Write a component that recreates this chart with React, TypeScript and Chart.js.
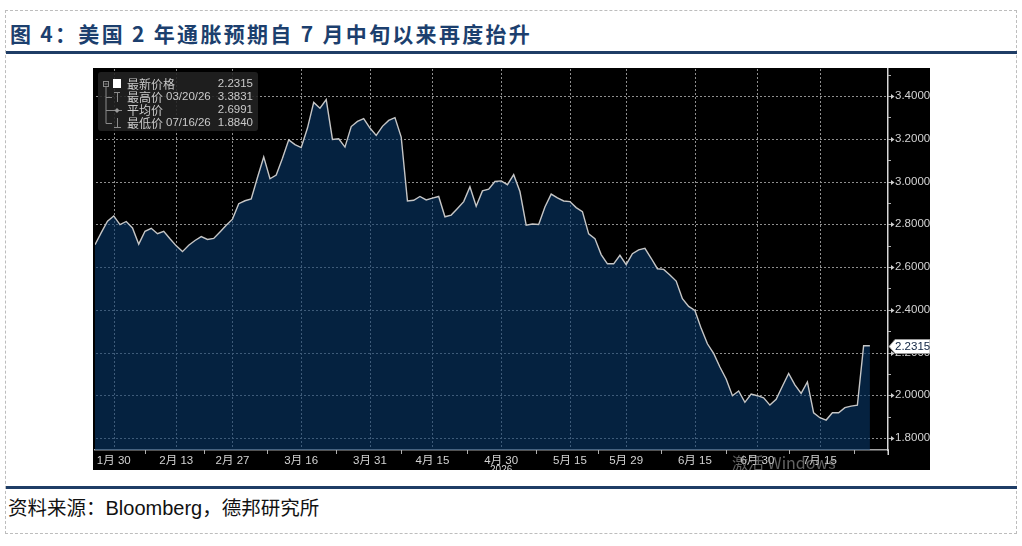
import React, { useEffect, useRef } from 'react';
import { Chart, registerables } from 'chart.js';

Chart.register(...registerables);

// ---------- data ----------
const START_DATE = '2026-01-27';
const HOLIDAYS = ['2026-02-16', '2026-04-03', '2026-05-25', '2026-06-19', '2026-07-03'];

const VALUES = [
  2.704, 2.761, 2.814, 2.839, 2.798, 2.813, 2.783, 2.707, 2.767, 2.781,
  2.756, 2.767, 2.732, 2.699, 2.672, 2.702, 2.724, 2.742, 2.729, 2.734,
  2.764, 2.795, 2.824, 2.896, 2.910, 2.918, 3.019, 3.115, 3.013, 3.030,
  3.109, 3.195, 3.173, 3.159, 3.250, 3.370, 3.343, 3.3831, 3.197, 3.200,
  3.161, 3.257, 3.281, 3.294, 3.250, 3.216, 3.258, 3.286, 3.299, 3.208,
  2.909, 2.912, 2.930, 2.914, 2.922, 2.930, 2.835, 2.843, 2.874, 2.906,
  2.975, 2.884, 2.956, 2.964, 3.000, 3.003, 2.985, 3.032, 2.953, 2.796,
  2.801, 2.799, 2.881, 2.941, 2.923, 2.909, 2.906, 2.878, 2.859, 2.755,
  2.733, 2.658, 2.615, 2.615, 2.655, 2.611, 2.662, 2.680, 2.687, 2.641,
  2.592, 2.589, 2.563, 2.534, 2.452, 2.416, 2.397, 2.313, 2.241, 2.196,
  2.132, 2.076, 1.998, 2.020, 1.967, 2.006, 1.998, 1.988, 1.954, 1.981,
  2.042, 2.102, 2.049, 2.009, 2.062, 1.918, 1.895, 1.884, 1.918, 1.918,
  1.942, 1.949, 1.954, 2.2315, 2.2315,
];

const X_LABEL_DATES = [
  '2026-01-30', '2026-02-13', '2026-02-27', '2026-03-16', '2026-03-31', '2026-04-15',
  '2026-04-30', '2026-05-15', '2026-05-29', '2026-06-15', '2026-06-30', '2026-07-15',
];
const YEAR_LABEL = '2026';

const Y_MAJOR = [1.8, 2.0, 2.2, 2.4, 2.6, 2.8, 3.0, 3.2, 3.4];
const Y_MINOR = [1.9, 2.1, 2.3, 2.5, 2.7, 2.9, 3.1, 3.3, 3.5];
const Y_MIN = 1.744;
const Y_MAX = 3.531;
const X_MAX = 126.9;

const LEGEND_NAMES = ['最新价格', '最高价', '平均价', '最低价'];
const LEGEND_DATES = ['', '03/20/26', '', '07/16/26'];
const LEGEND_VALUES = ['2.2315', '3.3831', '2.6991', '1.8840'];

const TITLE = '图 4：美国 2 年通胀预期自 7 月中旬以来再度抬升';
const SOURCE_A = '资料来源：';
const SOURCE_B = 'Bloomberg';
const SOURCE_C = '，德邦研究所';
const WATERMARK = '激活 Windows';

// ---------- derived ----------
function tradingDays(start: string, n: number): string[] {
  const out: string[] = [];
  const d = new Date(start + 'T00:00:00Z');
  while (out.length < n) {
    const iso = d.toISOString().slice(0, 10);
    const wd = d.getUTCDay();
    if (wd !== 0 && wd !== 6 && !HOLIDAYS.includes(iso)) out.push(iso);
    d.setUTCDate(d.getUTCDate() + 1);
  }
  return out;
}
const DATES = tradingDays(START_DATE, VALUES.length);
const LABEL_IDX = X_LABEL_DATES.map((s) => DATES.indexOf(s));
const MID_IDX: number[] = [];
for (let i = 1; i < LABEL_IDX.length; i++) MID_IDX.push((LABEL_IDX[i - 1] + LABEL_IDX[i]) / 2);
MID_IDX.push(LABEL_IDX[LABEL_IDX.length - 1] + 5.5);
const fmtLabel = (iso: string) => `${Number(iso.slice(5, 7))}月 ${Number(iso.slice(8, 10))}`;

const GRID = '#8e8e8e';
const TXT = '#d4d4d4';
const FONT = '"Noto Sans CJK SC", "DejaVu Sans", sans-serif';
const NUMFONT = '"Liberation Sans", "Noto Sans CJK SC", sans-serif';

const decor = {
  id: 'decor',
  beforeDraw(chart: any) {
    const { ctx, width, height } = chart;
    ctx.save();
    ctx.fillStyle = '#000';
    ctx.fillRect(0, 0, width, height);
    ctx.restore();
  },
  beforeDatasetsDraw(chart: any) {
    // dotted grid lines (drawn dot by dot) at the labelled ticks of both scales
    const { ctx, chartArea } = chart;
    const ys = chart.scales.y;
    const xs = chart.scales.x;
    const L = Math.round(chartArea.left), R = Math.round(chartArea.right);
    const T = Math.round(chartArea.top), B = Math.round(chartArea.bottom);
    ctx.save();
    ctx.fillStyle = GRID;
    Y_MAJOR.forEach((v) => {
      const y = Math.round(ys.getPixelForValue(v));
      for (let x = L + 1; x < R - 1; x += 4) ctx.fillRect(x, y, 2, 1);
    });
    LABEL_IDX.forEach((i) => {
      const x = Math.round(xs.getPixelForValue(i));
      for (let y = T + 1; y < B - 1; y += 4) ctx.fillRect(x, y, 1, 2);
    });
    ctx.restore();
  },
  afterDraw(chart: any) {
    const { ctx, chartArea } = chart;
    const ys = chart.scales.y;
    const xs = chart.scales.x;
    ctx.save();

    // x tick marks between labels, y tick marks
    ctx.strokeStyle = '#b0b0b0';
    ctx.lineWidth = 1;
    ctx.beginPath();
    MID_IDX.forEach((i) => {
      const x = Math.round(xs.getPixelForValue(i)) + 0.5;
      ctx.moveTo(x, chartArea.bottom);
      ctx.lineTo(x, chartArea.bottom + 4);
    });
    Y_MINOR.forEach((v) => {
      const y = Math.round(ys.getPixelForValue(v)) + 0.5;
      ctx.moveTo(chartArea.right, y);
      ctx.lineTo(chartArea.right + 3, y);
    });
    Y_MAJOR.forEach((v) => {
      const y = Math.round(ys.getPixelForValue(v)) + 0.5;
      ctx.moveTo(chartArea.right, y);
      ctx.lineTo(chartArea.right + 4, y);
    });
    ctx.stroke();
    ctx.fillStyle = '#d0d0d0';
    Y_MAJOR.forEach((v) => {
      const y = Math.round(ys.getPixelForValue(v)) + 0.5;
      ctx.beginPath();
      ctx.moveTo(chartArea.right + 3, y - 2.5);
      ctx.lineTo(chartArea.right + 6.5, y);
      ctx.lineTo(chartArea.right + 3, y + 2.5);
      ctx.closePath();
      ctx.fill();
    });
    ctx.strokeStyle = '#d8d8d8';
    ctx.lineWidth = 1.5;
    ctx.beginPath();
    ctx.moveTo(chartArea.right + 0.25, chartArea.bottom);
    ctx.lineTo(chartArea.right + 0.25, chartArea.bottom + 5);
    ctx.stroke();

    // year label under Apr 30 (clipped by the panel)
    ctx.fillStyle = TXT;
    ctx.font = `10px ${NUMFONT}`;
    ctx.textAlign = 'center';
    ctx.textBaseline = 'top';
    ctx.fillText(YEAR_LABEL, xs.getPixelForValue(LABEL_IDX[6]), 397);

    // watermark
    ctx.fillStyle = 'rgba(165,165,165,0.6)';
    ctx.font = `16px ${FONT}`;
    ctx.textAlign = 'left';
    ctx.textBaseline = 'middle';
    ctx.fillText(WATERMARK, 639, 395);

    // legend box
    ctx.fillStyle = 'rgba(34,34,34,0.88)';
    const bx = 5, by = 4, bw = 160, bh = 59, r = 3;
    ctx.beginPath();
    ctx.moveTo(bx + r, by);
    ctx.lineTo(bx + bw - r, by);
    ctx.quadraticCurveTo(bx + bw, by, bx + bw, by + r);
    ctx.lineTo(bx + bw, by + bh - r);
    ctx.quadraticCurveTo(bx + bw, by + bh, bx + bw - r, by + bh);
    ctx.lineTo(bx + r, by + bh);
    ctx.quadraticCurveTo(bx, by + bh, bx, by + bh - r);
    ctx.lineTo(bx, by + r);
    ctx.quadraticCurveTo(bx, by, bx + r, by);
    ctx.fill();

    const rows = [16, 29, 42, 55];
    ctx.strokeStyle = '#8a8a8a';
    ctx.lineWidth = 1;
    ctx.strokeRect(10.5, 13.5, 5, 5);
    ctx.beginPath();
    ctx.moveTo(11.5, 16); ctx.lineTo(14.5, 16);
    ctx.moveTo(13, 19); ctx.lineTo(13, 55.5);
    for (let k = 1; k < 4; k++) { ctx.moveTo(13, rows[k] + 0.5); ctx.lineTo(19, rows[k] + 0.5); }
    ctx.moveTo(21, 24.5); ctx.lineTo(27, 24.5); ctx.moveTo(24.5, 24.5); ctx.lineTo(24.5, 34);
    ctx.moveTo(19, 42.5); ctx.lineTo(29, 42.5);
    ctx.moveTo(24.5, 50); ctx.lineTo(24.5, 59.5); ctx.moveTo(21, 59.5); ctx.lineTo(28, 59.5);
    ctx.stroke();
    ctx.fillStyle = '#9a9a9a';
    ctx.beginPath();
    ctx.moveTo(24, 40); ctx.lineTo(26.5, 42.5); ctx.lineTo(24, 45); ctx.lineTo(21.5, 42.5); ctx.closePath();
    ctx.fill();
    ctx.fillStyle = '#ffffff';
    ctx.fillRect(20, 11, 8, 9);

    ctx.fillStyle = '#c9c9c9';
    ctx.textBaseline = 'middle';
    rows.forEach((ry, k) => {
      ctx.textAlign = 'left';
      ctx.font = `12px ${FONT}`;
      ctx.fillText(LEGEND_NAMES[k], 34, ry);
      ctx.font = `11.5px ${NUMFONT}`;
      if (LEGEND_DATES[k]) ctx.fillText(LEGEND_DATES[k], 73, ry);
      ctx.textAlign = 'right';
      ctx.fillText(LEGEND_VALUES[k], 160, ry);
    });

    // last value tag
    const last = VALUES[VALUES.length - 1];
    const ly = Math.round(ys.getPixelForValue(last)) + 0.5;
    const lx = chartArea.right + 1;
    ctx.fillStyle = '#ffffff';
    ctx.strokeStyle = '#9a9a9a';
    ctx.lineWidth = 1;
    ctx.beginPath();
    ctx.moveTo(lx, ly);
    ctx.lineTo(lx + 6, ly - 7);
    ctx.lineTo(lx + 41, ly - 7);
    ctx.lineTo(lx + 41, ly + 7);
    ctx.lineTo(lx + 6, ly + 7);
    ctx.closePath();
    ctx.fill();
    ctx.stroke();
    ctx.fillStyle = '#0d2240';
    ctx.font = `11.5px ${NUMFONT}`;
    ctx.textAlign = 'left';
    ctx.textBaseline = 'middle';
    ctx.fillText(last.toFixed(4), lx + 6, ly);

    ctx.restore();
  },
};

function BloombergChart() {
  const ref = useRef<HTMLCanvasElement | null>(null);
  useEffect(() => {
    if (!ref.current) return;
    const chart = new Chart(ref.current, {
      type: 'line',
      data: {
        datasets: [
          {
            data: VALUES.map((v, i) => ({ x: i, y: v })),
            borderColor: '#c6c6c6',
            borderWidth: 1.4,
            backgroundColor: 'rgba(8,56,106,0.6)',
            fill: 'start',
            pointRadius: 0,
            tension: 0,
          },
        ],
      },
      options: {
        animation: false,
        responsive: false,
        layout: { padding: { left: 2, top: 0, right: 0, bottom: 0 } },
        plugins: { legend: { display: false }, tooltip: { enabled: false } },
        scales: {
          x: {
            type: 'linear',
            min: 0,
            max: X_MAX,
            afterBuildTicks: (axis: any) => {
              axis.ticks = LABEL_IDX.map((v) => ({ value: v }));
            },
            afterFit: (axis: any) => {
              axis.height = 20;
              axis.paddingLeft = 0;
              axis.paddingRight = 0;
            },
            ticks: {
              autoSkip: false,
              maxRotation: 0,
              padding: 0,
              color: TXT,
              font: { family: NUMFONT, size: 11.5 },
              callback: (v: any) => {
                const k = LABEL_IDX.indexOf(Number(v));
                return k >= 0 ? fmtLabel(X_LABEL_DATES[k]) : '';
              },
            },
            grid: { display: false, drawTicks: true, tickLength: 4 },
            border: { display: true, color: '#a4a4a4', width: 1.5 },
          },
          y: {
            type: 'linear',
            position: 'right',
            min: Y_MIN,
            max: Y_MAX,
            afterBuildTicks: (axis: any) => {
              axis.ticks = Y_MAJOR.map((v) => ({ value: v }));
            },
            afterFit: (axis: any) => {
              axis.width = 42;
              axis.paddingTop = 0;
              axis.paddingBottom = 0;
            },
            ticks: {
              autoSkip: false,
              padding: 1,
              color: TXT,
              font: { family: NUMFONT, size: 11.5 },
              callback: (v: any) => Number(v).toFixed(4),
            },
            grid: { display: false, drawTicks: true, tickLength: 6 },
            border: { display: true, color: '#d8d8d8', width: 1.5 },
          },
        },
      },
      plugins: [decor],
    } as any);
    return () => chart.destroy();
  }, []);
  return <canvas ref={ref} width={837} height={402} style={{ width: 837, height: 402, display: 'block' }} />;
}

export default function App() {
  return (
    <div
      style={{
        position: 'absolute',
        left: 0,
        top: 0,
        width: 1022,
        height: 546,
        background: '#ffffff',
        overflow: 'hidden',
        fontFamily: FONT,
      }}
    >
      <div
        style={{
          position: 'absolute',
          left: 5,
          top: 10,
          width: 1010,
          height: 522,
          border: '1px dashed #bdbdbd',
        }}
      />
      <div
        style={{
          position: 'absolute',
          left: 10,
          top: 20,
          fontSize: 21,
          lineHeight: '26px',
          fontWeight: 700,
          color: '#1c3f6e',
          whiteSpace: 'pre',
          letterSpacing: 2.3,
        }}
      >
        {TITLE}
      </div>
      <div style={{ position: 'absolute', left: 6, top: 51, width: 1011, height: 3, background: '#1f3d66' }} />
      <div style={{ position: 'absolute', left: 93, top: 68, width: 837, height: 402 }}>
        <BloombergChart />
      </div>
      <div style={{ position: 'absolute', left: 6, top: 486, width: 1011, height: 3, background: '#1f3d66' }} />
      <div
        style={{
          position: 'absolute',
          left: 8,
          top: 494,
          fontSize: 19.5,
          lineHeight: '26px',
          color: '#111',
          whiteSpace: 'pre',
        }}
      >
        {SOURCE_A}
        <span style={{ fontFamily: '"Liberation Sans", Arial, sans-serif', fontSize: 20 }}>{SOURCE_B}</span>
        {SOURCE_C}
      </div>
    </div>
  );
}
